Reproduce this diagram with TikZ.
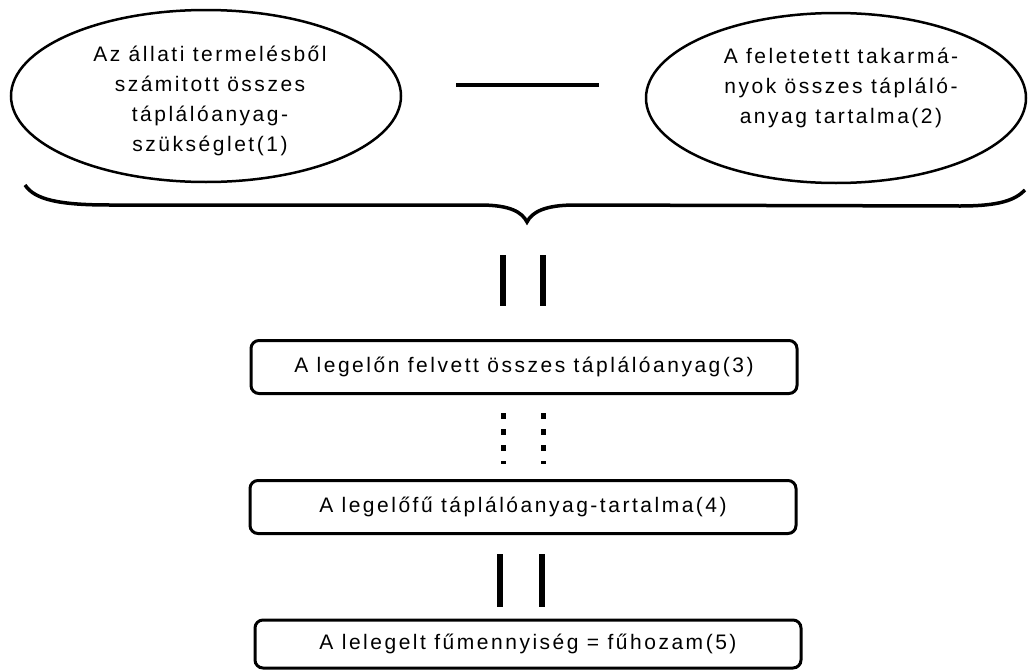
\documentclass[tikz,border=0pt]{standalone}
\usepackage{fontspec}
\setmainfont{Liberation Sans}[LetterSpace=12]
\usetikzlibrary{shapes.geometric}

\tikzset{
  oval/.style={ellipse, draw, inner sep=0pt, line width=2.5pt},
  ovaltext/.style={align=center, inner sep=0pt},
  box/.style={draw, rounded corners=8pt, minimum width=546pt, minimum height=53pt, inner sep=0pt, line width=3pt},
  dbl/.style={line width=6pt},
  dots/.style={line width=5pt, dash pattern=on 6pt off 10pt}
}

\begin{document}
\begin{tikzpicture}[x=1pt, y=-1pt, font=\fontsize{21}{30}\selectfont]
\useasboundingbox (0,0) rectangle (1029,672);
\draw (206,96) node[oval, minimum width=390pt, minimum height=172pt](e1){}
    (836,98) node[oval, minimum width=380pt, minimum height=170pt](e2){};
\node[ovaltext] (e1t) at (210,101) {Az állati termelésből\\számitott összes\\táplálóanyag-\\szükséglet(1)};
\node[ovaltext] (e2t) at (841,88) {A feletetett takarmá-\\nyok összes tápláló-\\anyag tartalma(2)};
\draw[line width=4pt, shorten <=54pt, shorten >=46pt] (e1.east |- 0,85) -- (e2.west |- 0,85);
% kapcsos zarojel
\draw[line width=3.5pt] (25,185) .. controls (35,200) and (60,205) .. (110,205) -- (480,205)
    .. controls (510,205) and (522,212) .. (527,222)
    .. controls (532,212) and (545,205) .. (575,205) -- (960,206)
    .. controls (1000,206) and (1015,200) .. (1025,190);
\coordinate (br) at (527,222);
\draw (524,367) node[box](b3){A legelőn felvett összes táplálóanyag(3)}
    (523,507) node[box](b4){A legelőfű táplálóanyag-tartalma(4)}
    (528,644) node[box, minimum height=48pt](b5){A lelegelt fűmennyiség = fűhozam(5)};
\draw[dbl, shorten <=33pt, shorten >=33pt] ([xshift=-21pt]b3.north |- br) -- ([xshift=-21pt]b3.north);
\draw[dbl, shorten <=33pt, shorten >=33pt] ([xshift=19pt]b3.north |- br) -- ([xshift=19pt]b3.north);
\draw[dots, shorten <=18pt, shorten >=15pt] ([xshift=-21pt]b3.south) -- ([xshift=-21pt]b3.south |- b4.north);
\draw[dots, shorten <=18pt, shorten >=15pt] ([xshift=19pt]b3.south) -- ([xshift=19pt]b3.south |- b4.north);
\draw[dbl, shorten <=19pt, shorten >=12pt] ([xshift=-23pt]b4.south) -- ([xshift=-23pt]b4.south |- b5.north);
\draw[dbl, shorten <=19pt, shorten >=12pt] ([xshift=19pt]b4.south) -- ([xshift=19pt]b4.south |- b5.north);
\end{tikzpicture}
\end{document}
